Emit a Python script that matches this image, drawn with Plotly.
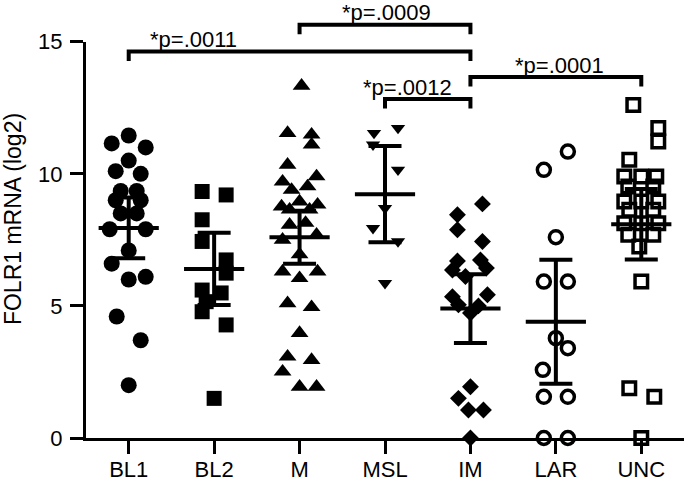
import plotly.graph_objects as go

categories = ["BL1", "BL2", "M", "MSL", "IM", "LAR", "UNC"]

# FOLR1 mRNA (log2) per sample
bl1 = [11.45, 11.15, 11.0, 10.5, 10.1, 10.0, 9.35, 9.35, 9.0, 9.0, 8.5, 8.5,
       7.9, 7.9, 7.1, 6.6, 6.0, 6.1, 4.6, 3.7, 2.0]
bl1_off = [0, -17, 17, 0, -13, 12, -8, 8, -13, 12, -8, 8,
           -19, 17, 0, -17, 0, 17, -12, 12, 0]
bl2 = [9.33, 9.2, 8.26, 7.44, 6.74, 6.24, 5.6, 5.49, 5.16, 4.78, 4.28, 1.5]
bl2_off = [-12, 12, -12, -12, 12, 12, -12, 7, -8, -12, 12, 0]
m = [13.33, 11.54, 11.48, 11.1, 10.34, 9.9, 9.7, 9.52, 9.39, 8.95, 8.83, 8.76,
     8.64, 8.64, 8.14, 8.07, 7.69, 7.5, 6.95, 6.3, 6.3, 6.05, 5.1, 4.95,
     3.97, 3.08, 2.95, 2.51, 1.94, 1.94]
m_off = [2, -12, 12, 12, -12, 17, -17, 8, -8, 0, 18, -18,
         -10, 10, 6, -10, 17, -17, 0, -17, 18, 0, -12, 12,
         0, -12, 12, -17, 0, 17]
msl = [11.73, 11.54, 11.1, 10.15, 8.7, 7.94, 7.44, 5.86]
msl_off = [13, -11, -12, 13, 0, -12, 13, 0]
im = [8.86, 8.45, 7.88, 7.44, 6.74, 6.7, 6.43, 6.36, 6.11, 5.42, 5.35, 5.04,
      5.0, 4.73, 1.94, 1.5, 1.06, 1.06, 0.0]
im_off = [12, -13, -13, 12, 10, -13, 16, -18, -5, 17, -18, -12,
          8, 0, 0, -12, -2, 13, 0]
lar = [10.84, 10.15, 7.6, 5.92, 5.92, 3.78, 3.4, 2.58, 1.56, 1.56, 0.0, 0.0]
lar_off = [12, -12, 0, -12, 12, 0, 12, -13, -12, 12, -12, 12]
unc = [12.6, 11.73, 11.22, 10.53, 9.9, 9.9, 9.9, 9.52, 9.52, 8.95, 8.95, 8.95,
       8.64, 8.64, 8.13, 8.13, 8.13, 7.69, 7.69, 7.25, 5.92, 1.88, 1.56, 0.0]
unc_off = [-8, 17, 17, -12, -17, 0, 15, -13, 12, -17, 0, 17,
           -12, 12, -17, 0, 17, -13, 12, -2, 0, -12, 13, 0]

# mean and 95% CI half-width per group
means = [7.95, 6.4, 7.6, 9.23, 4.9, 4.4, 8.09]
ci_half = [1.15, 1.37, 1.0, 1.82, 1.3, 2.35, 1.33]

# significance brackets
br_left = [0, 2, 4, 3]
br_right = [4, 4, 6, 4]
br_y = [14.63, 15.64, 13.66, 12.83]
br_text = ["*p=.0011", "*p=.0009", "*p=.0001", "*p=.0012"]
br_text_x = [0.76, 3.02, 5.04, 3.26]

FONT = "Arial, Liberation Sans, sans-serif"
CAT_PX = 598 / 7.0  # pixels per category

groups = [
    (bl1, bl1_off, "circle", 16, False),
    (bl2, bl2_off, "square", 15, False),
    (m, m_off, "triangle-up", 15.5, False),
    (msl, msl_off, "triangle-down", 12.5, False),
    (im, im_off, "diamond", 13, False),
    (lar, lar_off, "circle-open", 13, True),
    (unc, unc_off, "square-open", 12.5, True),
]

fig = go.Figure()
for i, (vals, offs, sym, size, is_open) in enumerate(groups):
    xs = [i + o / CAT_PX for o in offs]
    marker = dict(symbol=sym, size=size, color="black")
    if is_open:
        marker["line"] = dict(color="black", width=3.5)
    else:
        marker["line"] = dict(width=0)
    fig.add_trace(go.Scatter(x=xs, y=vals, mode="markers", marker=marker,
                             cliponaxis=False, showlegend=False, hoverinfo="y"))

fig.add_trace(go.Scatter(
    x=list(range(len(categories))), y=means, mode="markers",
    marker=dict(symbol="line-ew-open", size=43, color="black",
                line=dict(color="black", width=4)),
    error_y=dict(type="data", array=ci_half, visible=True, color="black",
                 thickness=4, width=16.5),
    cliponaxis=False, showlegend=False))

leg = 0.36
for l, r, y in zip(br_left, br_right, br_y):
    fig.add_trace(go.Scatter(
        x=[l, l, r, r], y=[y - leg, y, y, y - leg], mode="lines",
        line=dict(color="black", width=4), yaxis="y2",
        showlegend=False, hoverinfo="skip"))
for tx, y, t in zip(br_text_x, br_y, br_text):
    fig.add_annotation(x=tx, y=y, xref="x", yref="y2", text=t,
                       showarrow=False, yshift=12, borderpad=0,
                       font=dict(family=FONT, size=22, color="black"))

dom = (438 - 41.7) / 438.0
fig.update_layout(
    width=684, height=481,
    margin=dict(l=86, r=0, t=0, b=43),
    paper_bgcolor="white", plot_bgcolor="rgba(0,0,0,0)",
    font=dict(family=FONT, size=22, color="black"),
    xaxis=dict(range=[-0.5, 6.5], tickvals=list(range(7)), ticktext=categories,
               showline=True, linecolor="black", linewidth=3,
               ticks="outside", ticklen=13, tickwidth=3, tickcolor="black",
               showgrid=False, zeroline=False, anchor="y", automargin=False,
               ticklabelstandoff=-3,
               tickfont=dict(family=FONT, size=22, color="black")),
    yaxis=dict(range=[0, 15], domain=[0, dom], tickvals=[0, 5, 10, 15],
               showline=True, linecolor="black", linewidth=3,
               ticks="outside", ticklen=13, tickwidth=3, tickcolor="black",
               showgrid=False, zeroline=False, automargin=False,
               ticklabelstandoff=3,
               tickfont=dict(family=FONT, size=22, color="black")),
    yaxis2=dict(range=[0, 15 / dom], domain=[0, 1], anchor="x",
                showline=False, showticklabels=False, ticks="",
                showgrid=False, zeroline=False, automargin=False,
                title=dict(text="FOLR1 mRNA (log2)", standoff=62,
                           font=dict(family=FONT, size=23, color="black"))),
)

fig.write_html("out.html", config={"displayModeBar": False},
               post_script="document.body.style.margin='0';"
                           "document.body.style.padding='0';")
